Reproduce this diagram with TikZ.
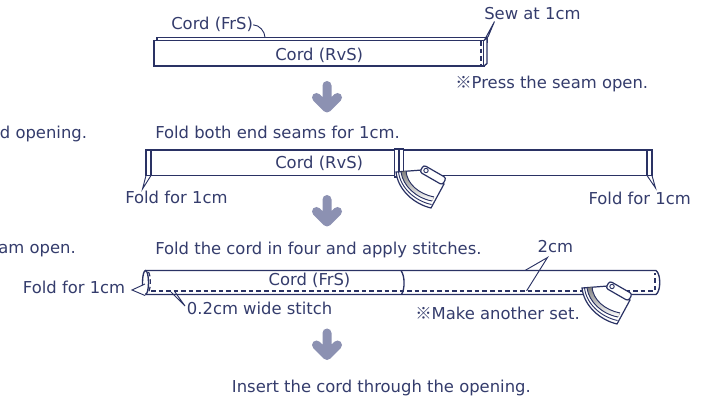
\documentclass[tikz,border=0pt]{standalone}
\usepackage{fontspec}
\setmainfont{DejaVu Sans}
\newfontfamily\cjk{Noto Sans CJK JP}
\definecolor{ink}{RGB}{42,50,100}
\definecolor{txt}{RGB}{52,60,108}
\definecolor{arr}{RGB}{140,145,178}
\definecolor{shade}{RGB}{226,227,238}
\tikzset{
	pics/iron/.style={code={
		\draw[ink, fill=white, line width=0.9pt] (0,0) .. controls (2,18) and (18,32) .. (35,36) -- (48,12) -- (26,-2) -- cycle;
		\fill[shade] (5,0) .. controls (7,14) and (20,26) .. (36,29) -- (38,25) .. controls (23,22) and (11,12) .. (10,-1) -- cycle;
		\draw[ink, line width=0.7pt] (2.5,0) .. controls (4.5,16) and (19,29) .. (35.5,32.5);
		\draw[ink, line width=0.7pt] (5,0) .. controls (7,14) and (20,26) .. (36,29);
		\draw[ink, line width=0.7pt] (10,-1) .. controls (11,12) and (23,22) .. (38,25);
		\draw[ink, fill=white, line width=0.9pt, rounded corners=2pt] (27.7,-7) -- (50.3,6) -- (46.3,13) -- (23.7,0) -- cycle;
		\draw[ink, line width=0.7pt] (30,-1.5) circle (2.2);
	}},
	pics/downarrow/.style={code={
		\draw[arr, line width=6.75pt, line cap=round, line join=round] (0,0) -- (0,22.5) (-10.5,12) -- (0,22.5) -- (10.5,12);
	}}
}
\begin{document}
\begin{tikzpicture}[x=0.75pt, y=-0.75pt,
	lbl/.style={text=txt, inner sep=0pt, font=\fontsize{12.3}{14}\selectfont},
	outl/.style={draw=ink, line width=1pt},
	lead/.style={draw=ink, line width=0.7pt},
	stitch/.style={draw=ink, line width=0.9pt, dash pattern=on 3.4pt off 2.25pt}]
	\useasboundingbox (0,0) rectangle (709,398);

	\draw[outl, fill=white] (157,37.5) rectangle (487,42);
	\draw[outl, fill=white] (154,40.5) rectangle (484,66);
	\draw[stitch] (481,41) -- (481,66);
	\draw[outl, fill=white] (484,40.5) -- (487,37.5) -- (487,63.5) -- (484,66);
	\node[lbl, anchor=base west] (frs1) at (171,30) {Cord (FrS)};
	\coordinate (frsend) at (265,37.5);
	\draw[lead] (frs1.east) .. controls +(6,0) and +(0,-6) .. (frsend);
	\node[lbl, anchor=base west] (sew) at (484,20) {Sew at 1cm};
	\coordinate (sewtip) at (494.5,21.5);
	\draw[lead] (485,39) -- (sewtip) -- (488,37);
	\node[lbl, anchor=base west] (rvs1) at (275,61) {Cord (RvS)};
	\node[lbl, anchor=base west] (press) at (455,89) {{\cjk ※}Press the seam open.};
	\pic at (327,85.5) {downarrow};

	\node[lbl, anchor=base east] (open1) at (87.3,138.5) {d opening.};
	\node[lbl, anchor=base west] (step2) at (155,138.3) {Fold both end seams for 1cm.};
	\draw[outl, fill=white] (146,150) rectangle (652,175.5);
	\draw[outl] (151,150) -- (151,175.5);
	\draw[outl] (647,150) -- (647,175.5);
	\coordinate (foldl) at (142.5,189);
	\coordinate (foldr) at (655.5,188);
	\draw[lead] (146,175.5) -- (foldl) -- (151,175.5);
	\draw[lead] (647,175.5) -- (foldr) -- (652,175.5);
	\draw[outl, fill=white] (394.5,149) rectangle (398.5,177);
	\draw[outl, fill=white] (399,149) rectangle (403.5,177);
	\node[lbl, anchor=base west] (rvs2) at (275,168.3) {Cord (RvS)};
	\node[lbl, anchor=base west] (fold1) at (125,204) {Fold for 1cm};
	\node[lbl, anchor=base west] (fold2) at (588.3,204.3) {Fold for 1cm};
	\pic at (396,172) {iron};
	\pic at (327,199.5) {downarrow};

	\node[lbl, anchor=base east] (open2) at (76,253.5) {am open.};
	\node[lbl, anchor=base west] (step3) at (155,254.3) {Fold the cord in four and apply stitches.};
	\node[lbl, anchor=base west] (two) at (537.3,252.3) {2cm};
	\draw[outl, fill=white] (145.5,270.5) -- (656,270.5) .. controls (661,274) and (661,291) .. (656,294.5) -- (145.5,294.5);
	\draw[outl, fill=white] (145.5,282.5) ellipse (3 and 12);
	\draw[stitch] (148.5,272) .. controls (151,276) and (151,288) .. (148.5,292);
	\draw[stitch] (151,291) -- (655,291) -- (655,273);
	\draw[outl] (401,270.5) .. controls (405,276) and (405,289) .. (401.5,294.5);
	\draw[lead, fill=white] (145,284) -- (132,290) -- (145,295.5);
	\node[lbl, anchor=base west] (frs2) at (268.3,285.7) {Cord (FrS)};
	\node[lbl, anchor=base west] (fold3) at (22.7,294) {Fold for 1cm};
	\node[lbl, anchor=base west] (wide) at (186.7,314.3) {0.2cm wide stitch};
	\coordinate (widetip) at (185,306);
	\draw[lead] (171,292) -- (widetip) -- (175,292);
	\coordinate (twotip) at (547.5,257.5);
	\draw[lead] (525,270.5) -- (twotip) -- (526.5,291);
	\node[lbl, anchor=base west] (another) at (415,320) {{\cjk ※}Make another set.};
	\pic at (582,288) {iron};
	\pic at (327,333) {downarrow};

	\node[lbl, anchor=base west] (insert) at (231.7,392.7) {Insert the cord through the opening.};
\end{tikzpicture}
\end{document}
